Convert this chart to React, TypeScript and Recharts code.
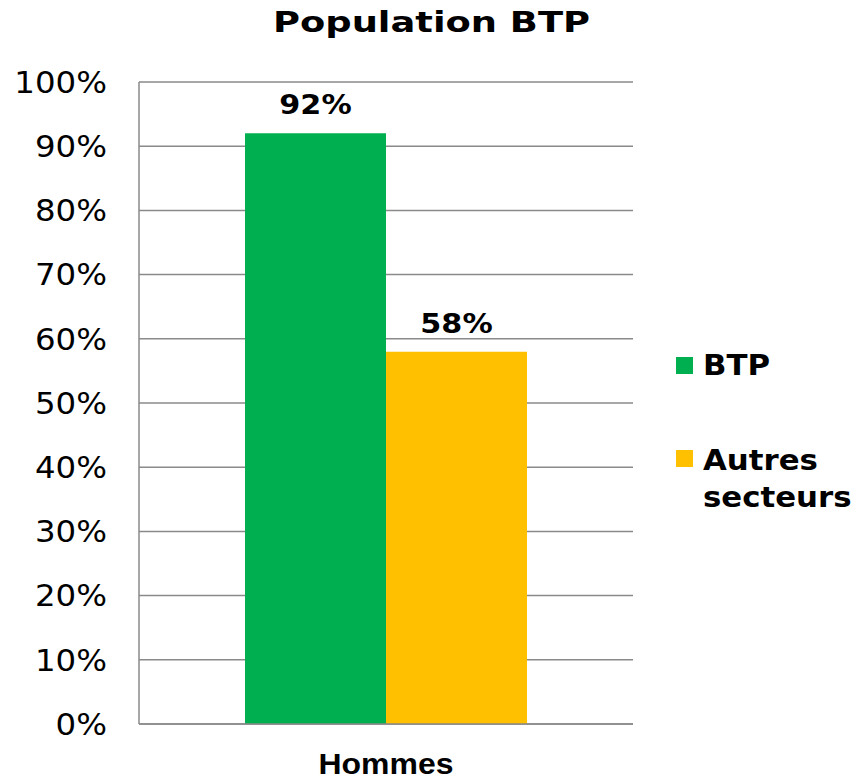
import { BarChart, Bar, XAxis, YAxis, CartesianGrid, Legend, LabelList } from 'recharts'

const categories = ['Hommes']
const btpValues = [0.92]
const autresValues = [0.58]
const yTicks = [0, 0.1, 0.2, 0.3, 0.4, 0.5, 0.6, 0.7, 0.8, 0.9, 1]
const seriesNames = ['BTP', 'Autres secteurs']

const BTP_COLOR = '#00B050'
const AUTRES_COLOR = '#FFC000'
const GRID = '#8a8a8a'
const FONT = '"DejaVu Sans", Verdana, sans-serif'

const data = categories.map((c, i) => ({ name: c, btp: btpValues[i], autres: autresValues[i] }))

const pct = (v: number) => `${Math.round(v * 100)}%`

function YTick({ x, y, payload }: any) {
  return (
    <text transform={`translate(${x},${y}) scale(1.08,1)`} textAnchor="end" dy="0.36em"
      fontFamily={FONT} fontSize={30} fill="#000">
      {pct(payload.value)}
    </text>
  )
}

function XTick({ x, y, payload }: any) {
  return (
    <text x={x} y={y} dy={50} textAnchor="middle" fontFamily='"Liberation Sans", Arial, sans-serif'
      fontWeight="bold" fontSize={29} fill="#000" textLength={135} lengthAdjust="spacingAndGlyphs">
      {payload.value}
    </text>
  )
}

function ValueLabel({ x, y, width, value }: any) {
  return (
    <text transform={`translate(${x + width / 2},${y - 19}) scale(1.12,1)`} textAnchor="middle"
      fontFamily={FONT} fontWeight="bold" fontSize={27} fill="#000">
      {pct(value)}
    </text>
  )
}

function LegendBox() {
  return (
    <svg width={187} height={190} style={{ display: 'block' }}>
      <rect x={6} y={17} width={17} height={17} fill={BTP_COLOR} />
      <text transform="translate(33,35) scale(1.1,1)" fontFamily={FONT} fontWeight="bold" fontSize={28} fill="#000">
        {seriesNames[0]}
      </text>
      <rect x={6} y={110} width={17} height={17} fill={AUTRES_COLOR} />
      <text transform="translate(33,130) scale(1.1,1)" fontFamily={FONT} fontWeight="bold" fontSize={28} fill="#000">
        {seriesNames[1].split(' ')[0]}
      </text>
      <text transform="translate(33,167) scale(1.1,1)" fontFamily={FONT} fontWeight="bold" fontSize={28} fill="#000">
        {seriesNames[1].split(' ')[1]}
      </text>
    </svg>
  )
}

export default function App() {
  return (
    <div style={{ position: 'absolute', left: 0, top: 0, width: 857, height: 783, background: '#fff' }}>
      <svg width={857} height={60} style={{ position: 'absolute', left: 0, top: 0 }}>
        <text x={431.5} y={32} textAnchor="middle" fontFamily={FONT} fontWeight="bold" fontSize={29}
          fill="#000" textLength={317} lengthAdjust="spacingAndGlyphs">
          Population BTP
        </text>
      </svg>
      <BarChart width={857} height={783} data={data} barGap={0}
        margin={{ top: 82, right: 37, bottom: 0, left: 0 }}>
        <CartesianGrid vertical={false} stroke={GRID} strokeWidth={1.5} />
        <XAxis dataKey="name" height={59} axisLine={{ stroke: GRID, strokeWidth: 1.5 }} tickLine={false}
          tickSize={0} tickMargin={0} tick={<XTick />} />
        <YAxis domain={[0, 1]} ticks={yTicks} width={139} axisLine={{ stroke: GRID, strokeWidth: 1.5 }}
          tickLine={false} tickSize={0} tickMargin={32} tick={<YTick />} interval={0} />
        <Legend layout="vertical" align="right" verticalAlign="middle" content={<LegendBox />}
          wrapperStyle={{ position: 'absolute', left: 670, top: 340, width: 187, height: 190 }} />
        <Bar dataKey="btp" name={seriesNames[0]} fill={BTP_COLOR} barSize={141} isAnimationActive={false}>
          <LabelList dataKey="btp" content={<ValueLabel />} />
        </Bar>
        <Bar dataKey="autres" name={seriesNames[1]} fill={AUTRES_COLOR} barSize={141} isAnimationActive={false}>
          <LabelList dataKey="autres" content={<ValueLabel />} />
        </Bar>
      </BarChart>
    </div>
  )
}
